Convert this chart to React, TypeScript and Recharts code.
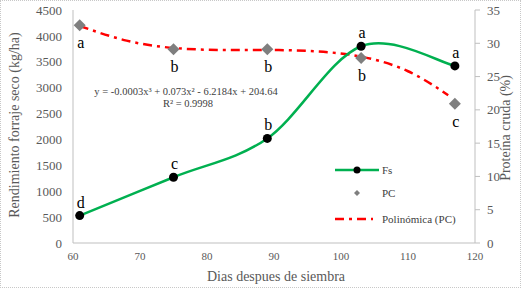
import React from 'react';
import { ComposedChart, Line, XAxis, YAxis, LabelList } from 'recharts';

const days = [61, 75, 89, 103, 117];
const fsValues = [530, 1270, 2020, 3800, 3420];
const pcValues = [32.7, 29.1, 29.1, 27.8, 20.9];
const fsLetters = ['d', 'c', 'b', 'a', 'a'];
const pcLetters = ['a', 'b', 'b', 'b', 'c'];
const polyDays = [61, 68, 75, 82, 89, 96, 103, 110, 116];
const polyValues = [32.6, 30.4, 29.3, 29.0, 29.0, 28.8, 28.0, 25.8, 22.2];
const xTicks = [60, 70, 80, 90, 100, 110, 120];
const leftTicks = [0, 500, 1000, 1500, 2000, 2500, 3000, 3500, 4000, 4500];
const rightTicks = [0, 5, 10, 15, 20, 25, 30, 35];

const fsData = days.map((d, i) => ({ x: d, fs: fsValues[i], letter: fsLetters[i] }));
const pcData = days.map((d, i) => ({ x: d, pc: pcValues[i], letter: pcLetters[i] }));
const polyData = polyDays.map((d, i) => ({ x: d, poly: polyValues[i] }));

const FONT = 'Liberation Serif';

// Excel-like smoothed line (Catmull-Rom Bezier)
const smoothCurve = (context: any) => {
  let pts: number[][] = [];
  return {
    areaStart() {},
    areaEnd() {},
    lineStart() {
      pts = [];
    },
    point(x: number, y: number) {
      pts.push([+x, +y]);
    },
    lineEnd() {
      if (!pts.length) return;
      context.moveTo(pts[0][0], pts[0][1]);
      for (let i = 0; i < pts.length - 1; i++) {
        const p0 = pts[i - 1] || pts[i];
        const p1 = pts[i];
        const p2 = pts[i + 1];
        const p3 = pts[i + 2] || pts[i + 1];
        const c1x = p1[0] + (p2[0] - p0[0]) / 6;
        const c1y = p1[1] + (p2[1] - p0[1]) / 6;
        const c2x = p2[0] - (p3[0] - p1[0]) / 6;
        const c2y = p2[1] - (p3[1] - p1[1]) / 6;
        context.bezierCurveTo(c1x, c1y, c2x, c2y, p2[0], p2[1]);
      }
    },
  };
};

const Diamond = (props: any) => {
  const { cx, cy } = props;
  if (cx == null || cy == null) return null;
  const r = 6;
  return (
    <polygon
      points={`${cx},${cy - r} ${cx + r},${cy} ${cx},${cy + r} ${cx - r},${cy}`}
      fill="#7f7f7f"
    />
  );
};

const FsLabel = (props: any) => {
  const { x, y, value } = props;
  return (
    <text x={x + 1} y={y - 8} textAnchor="middle" fontFamily={FONT} fontSize={16} fill="#000">
      {value}
    </text>
  );
};

const PcLabel = (props: any) => {
  const { x, y, value } = props;
  return (
    <text x={x + 1} y={y + 23} textAnchor="middle" fontFamily={FONT} fontSize={16} fill="#000">
      {value}
    </text>
  );
};

export default function App() {
  return (
    <div
      style={{
        position: 'absolute',
        left: 0,
        top: 0,
        width: 521,
        height: 288,
        boxSizing: 'border-box',
        border: '1px dotted #c8c8c8',
        background: '#fff',
        fontFamily: FONT,
      }}
    >
      <div style={{ position: 'absolute', left: -1, top: -1 }}>
        <ComposedChart width={521} height={288} margin={{ top: 10, right: 0, bottom: 0, left: 0 }} style={{ fontFamily: FONT }}>
          <XAxis
            dataKey="x"
            type="number"
            domain={[60, 120]}
            ticks={xTicks}
            allowDuplicatedCategory={false}
            height={45}
            tickLine={false}
            tickMargin={3}
            stroke="#bfbfbf"
            tick={{ fill: '#595959', fontSize: 11, fontFamily: FONT }}
          />
          <YAxis
            yAxisId="left"
            orientation="left"
            domain={[0, 4500]}
            ticks={leftTicks}
            width={73}
            tickLine={false}
            tickMargin={5}
            stroke="#bfbfbf"
            tick={{ fill: '#595959', fontSize: 13, fontFamily: FONT }}
          />
          <YAxis
            yAxisId="right"
            orientation="right"
            domain={[0, 35]}
            ticks={rightTicks}
            width={46}
            tickSize={5}
            tickMargin={7}
            stroke="#bfbfbf"
            tick={{ fill: '#595959', fontSize: 13, fontFamily: FONT }}
          />
          <Line
            yAxisId="right"
            data={polyData}
            dataKey="poly"
            type="natural"
            stroke="#ff0000"
            strokeWidth={2.5}
            strokeDasharray="9 5 3 5"
            dot={false}
            isAnimationActive={false}
          />
          <Line
            yAxisId="right"
            data={pcData}
            dataKey="pc"
            stroke="none"
            strokeWidth={0}
            dot={<Diamond />}
            activeDot={false}
            isAnimationActive={false}
          >
            <LabelList dataKey="letter" content={<PcLabel />} />
          </Line>
          <Line
            yAxisId="left"
            data={fsData}
            dataKey="fs"
            type={smoothCurve as any}
            stroke="#00b050"
            strokeWidth={2.5}
            dot={{ r: 4.5, fill: '#000', stroke: '#000', strokeWidth: 0 }}
            activeDot={false}
            isAnimationActive={false}
          >
            <LabelList dataKey="letter" content={<FsLabel />} />
          </Line>
        </ComposedChart>
      </div>
      <svg
        width={521}
        height={288}
        style={{ position: 'absolute', left: -1, top: -1, pointerEvents: 'none' }}
      >
        <text
          transform="translate(19,125) rotate(-90)"
          textAnchor="middle"
          fontFamily={FONT}
          fontSize={14}
          fill="#595959"
        >
          Rendimiento forraje seco (kg/ha)
        </text>
        <text
          transform="translate(510,128) rotate(-90)"
          textAnchor="middle"
          fontFamily={FONT}
          fontSize={14}
          fill="#595959"
        >
          Proteína cruda (%)
        </text>
        <text x={276} y={281} textAnchor="middle" fontFamily={FONT} fontSize={14} fill="#595959">
          Dias despues de siembra
        </text>
        <text x={186} y={95} textAnchor="middle" fontFamily={FONT} fontSize={10.5} fill="#404040">
          y = -0.0003x³ + 0.073x² - 6.2184x + 204.64
        </text>
        <text x={188} y={107} textAnchor="middle" fontFamily={FONT} fontSize={10.5} fill="#404040">
          R² = 0.9998
        </text>
        {/* legend */}
        <line x1={335} y1={170} x2={379} y2={170} stroke="#00b050" strokeWidth={2.5} />
        <circle cx={357} cy={170} r={3.5} fill="#000" />
        <text x={382} y={174} fontFamily={FONT} fontSize={11} fill="#404040">Fs</text>
        <polygon points="357,190 360,193 357,196 354,193" fill="#7f7f7f" />
        <text x={382} y={197} fontFamily={FONT} fontSize={11} fill="#404040">PC</text>
        <line x1={335} y1={219} x2={373} y2={219} stroke="#ff0000" strokeWidth={2.5} strokeDasharray="9 5 3 5" />
        <text x={382} y={223} fontFamily={FONT} fontSize={11} fill="#404040">Polinómica (PC)</text>
      </svg>
    </div>
  );
}
